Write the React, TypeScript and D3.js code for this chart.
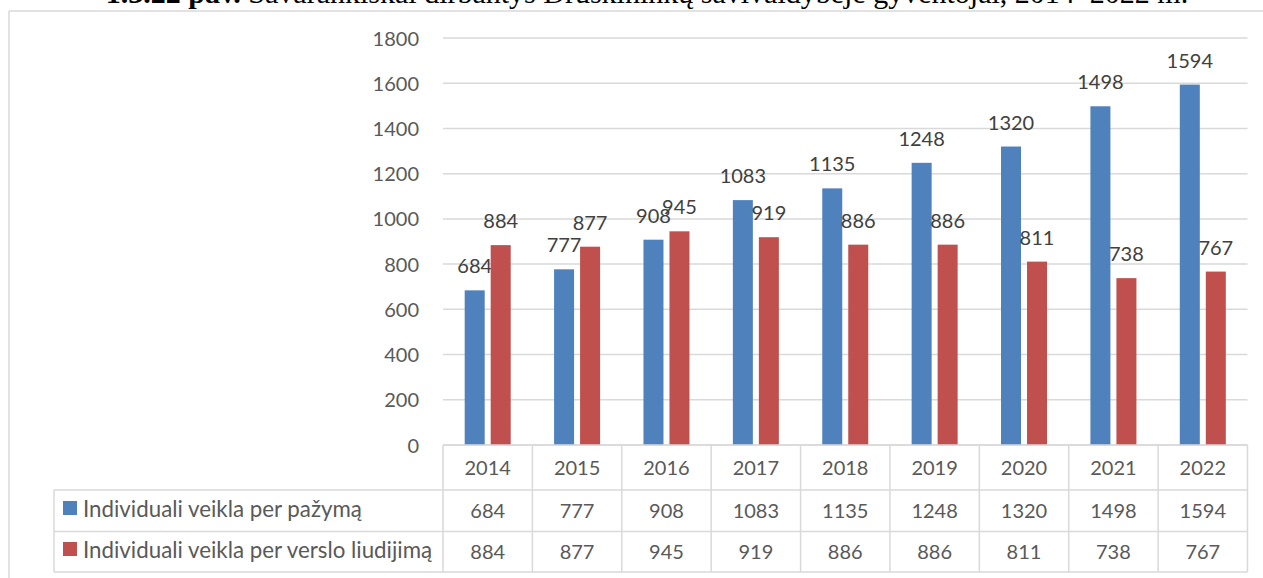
import React from "react";
import * as d3 from "d3";

const years = ["2014", "2015", "2016", "2017", "2018", "2019", "2020", "2021", "2022"];
const seriesNames = ["Individuali veikla per pažymą", "Individuali veikla per verslo liudijimą"];
const pazyma = [684, 777, 908, 1083, 1135, 1248, 1320, 1498, 1594];
const liudijimas = [884, 877, 945, 919, 886, 886, 811, 738, 767];
const colors = ["#4F81BD", "#C0504D"];
const yTicks = [0, 200, 400, 600, 800, 1000, 1200, 1400, 1600, 1800];
const titleBold = "1.3.22 pav.";
const titleRest = " Savarankiškai dirbantys Druskininkų savivaldybėje gyventojai, 2014–2022 m.";

export default function App() {
  const W = 1263, H = 578;
  const left = 443, right = 1247.5, top = 38, bottom = 445;
  const x = d3.scaleBand().domain(years).range([left, right]).padding(0);
  const y = d3.scaleLinear().domain([0, 1800]).range([bottom, top]);
  const groupW = 46;
  const x1 = d3.scaleBand().domain(["0", "1"]).range([0, groupW]).paddingInner(6 / 26);
  const data = [pazyma, liudijimas];
  const font = "Lato, 'Open Sans', sans-serif";
  const grid = "#d9d9d9";
  const rowY = [445, 490, 531.5, 572];
  const legendLeft = 54;

  return (
    <svg width={W} height={H} style={{ position: "absolute", left: 0, top: 0, background: "#fff" }}>
      <text x={647} y={3} textAnchor="middle" fontFamily="'Liberation Serif', 'Times New Roman', serif" fontSize={30} fill="#000">
        <tspan fontWeight="bold">{titleBold}</tspan>
        <tspan>{titleRest}</tspan>
      </text>
      {/* outer frame */}
      <line x1={9} y1={11} x2={W} y2={11} stroke={grid} strokeWidth={1.5} />
      <line x1={9} y1={11} x2={9} y2={H} stroke={grid} strokeWidth={1.5} />
      {/* gridlines */}
      {yTicks.map((t) => (
        <line key={t} x1={left} x2={right} y1={y(t)} y2={y(t)} stroke={grid} strokeWidth={1.5} />
      ))}
      {yTicks.map((t) => (
        <text key={"l" + t} x={419} y={y(t) + 7.5} textAnchor="end" fontFamily={font} fontSize={20} fill="#595959">
          {t}
        </text>
      ))}
      {/* bars */}
      {years.map((yr, i) => {
        const c = (x(yr) as number) + x.bandwidth() / 2 - groupW / 2;
        return data.map((s, j) => {
          const bx = c + (x1(String(j)) as number);
          const bw = x1.bandwidth();
          return (
            <g key={yr + j}>
              <rect x={bx} y={y(s[i])} width={bw} height={bottom - y(s[i])} fill={colors[j]} />
              <text x={bx + bw / 2} y={y(s[i]) - 17} textAnchor="middle" fontFamily={font} fontSize={20} fill="#404040">
                {s[i]}
              </text>
            </g>
          );
        });
      })}
      {/* data table */}
      {rowY.map((ry, k) => (
        <line key={"h" + k} x1={k === 0 ? left : legendLeft} x2={right} y1={ry} y2={ry} stroke={grid} strokeWidth={1.5} />
      ))}
      <line x1={legendLeft} x2={legendLeft} y1={rowY[1]} y2={rowY[3]} stroke={grid} strokeWidth={1.5} />
      {years.map((yr) => (
        <line key={"v" + yr} x1={x(yr) as number} x2={x(yr) as number} y1={rowY[0]} y2={rowY[3]} stroke={grid} strokeWidth={1.5} />
      ))}
      <line x1={right} x2={right} y1={rowY[0]} y2={rowY[3]} stroke={grid} strokeWidth={1.5} />
      {years.map((yr) => (
        <text key={"y" + yr} x={(x(yr) as number) + x.bandwidth() / 2} y={475} textAnchor="middle" fontFamily={font} fontSize={20} fill="#595959">
          {yr}
        </text>
      ))}
      {data.map((s, j) => (
        <g key={"row" + j}>
          <rect x={63} y={501 + j * 41} width={14} height={14} fill={colors[j]} />
          <text x={83} y={517 + j * 41} fontFamily={font} fontSize={22.3} fill="#595959">
            {seriesNames[j]}
          </text>
          {years.map((yr, i) => (
            <text key={yr} x={(x(yr) as number) + x.bandwidth() / 2} y={518 + j * 40.5} textAnchor="middle" fontFamily={font} fontSize={20} fill="#595959">
              {s[i]}
            </text>
          ))}
        </g>
      ))}
    </svg>
  );
}
